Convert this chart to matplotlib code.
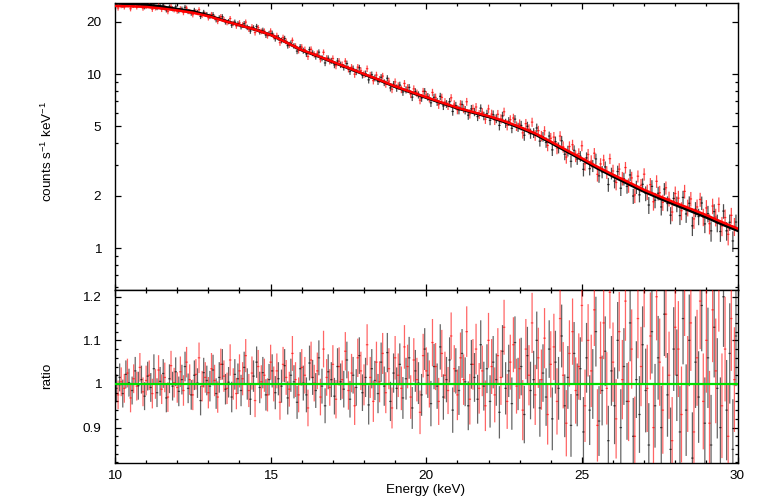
import numpy as np
import matplotlib
matplotlib.use("Agg")
import matplotlib.pyplot as plt
from matplotlib.ticker import FixedLocator, FixedFormatter, MultipleLocator, NullFormatter

plt.rcParams['font.family'] = ['Liberation Sans', 'DejaVu Sans']
plt.rcParams['mathtext.fontset'] = 'custom'
plt.rcParams['mathtext.rm'] = 'Liberation Sans'
plt.rcParams['mathtext.default'] = 'regular'

# ---------------- data ----------------
model_energy = np.linspace(10.0, 30.0, 41)
model_black = [25.5, 25.3, 25.0, 24.4, 23.6, 22.9, 21.7, 20.3, 19.1, 18.0,
               16.8, 15.2, 13.7, 12.7, 11.7, 10.8, 9.96, 9.20, 8.45, 7.85,
               7.31, 6.81, 6.35, 6.00, 5.68, 5.31, 4.91, 4.50, 4.03, 3.60,
               3.22, 2.87, 2.58, 2.33, 2.11, 1.93, 1.77, 1.63, 1.50, 1.37, 1.26]
model_red = [24.6, 24.5, 24.3, 23.8, 23.2, 22.5, 21.5, 20.2, 19.1, 18.0,
             16.8, 15.2, 13.75, 12.75, 11.75, 10.85, 10.0, 9.25, 8.5, 7.9,
             7.36, 6.86, 6.40, 6.05, 5.73, 5.37, 4.97, 4.56, 4.09, 3.66,
             3.28, 2.93, 2.64, 2.39, 2.16, 1.98, 1.82, 1.68, 1.545, 1.41, 1.295]

energy_black = 10.05 + 0.1 * np.arange(200)
energy_red = 10.10 + 0.1 * np.arange(199)

ratio_black = [
    0.990, 1.015, 0.978, 1.022, 1.003, 0.985, 1.030, 0.996, 1.010, 0.972,
    1.018, 0.992, 1.035, 0.980, 1.006, 1.024, 0.968, 1.012, 0.995, 1.028,
    0.983, 1.010, 1.040, 0.990, 0.975, 1.020, 1.002, 0.962, 1.026, 1.008,
    0.995, 1.032, 0.978, 1.015, 1.045, 0.988, 1.004, 0.970, 1.022, 1.012,
    0.985, 1.038, 1.000, 0.965, 1.018, 1.050, 0.992, 1.026, 0.975, 1.010,
    1.030, 0.980, 1.012, 0.995, 1.042, 0.968, 1.020, 1.005, 0.958, 1.035,
    1.002, 0.975, 1.048, 1.015, 0.985, 1.060, 0.995, 0.950, 1.028, 1.010,
    0.972, 1.040, 1.005, 0.988, 1.055, 0.965, 1.020, 0.992, 1.065, 0.980,
    1.015, 0.952, 1.035, 1.008, 0.978, 1.050, 0.995, 1.072, 0.960, 1.025,
    0.990, 1.045, 0.968, 1.012, 1.060, 0.945, 1.030, 1.002, 0.975, 1.080,
    1.020, 0.955, 1.040, 0.995, 1.085, 0.970, 1.010, 1.055, 0.940, 1.030,
    0.985, 1.070, 1.005, 0.950, 1.045, 1.015, 0.965, 1.090, 0.995, 1.035,
    0.960, 1.050, 1.010, 0.935, 1.075, 0.990, 1.030, 0.955, 1.095, 1.000,
    1.040, 0.930, 1.065, 0.985, 1.010, 1.100, 0.945, 1.025, 0.970, 1.080,
    0.920, 1.050, 0.990, 1.110, 0.950, 1.015, 0.905, 1.070, 0.975, 1.035,
    0.890, 1.060, 0.940, 1.000, 1.120, 0.915, 0.985, 1.075, 0.870, 1.030,
    0.950, 1.100, 0.900, 1.040, 0.960, 1.140, 0.880, 1.010, 0.930, 1.090,
    0.985, 0.860, 1.120, 0.950, 1.060, 0.900, 1.160, 0.975, 0.850, 1.080,
    1.020, 0.890, 1.150, 0.940, 1.100, 0.830, 1.050, 0.970, 1.180, 0.910,
    1.060, 0.860, 1.130, 0.990, 0.900, 1.200, 0.940, 1.070, 0.850, 1.110]
ratio_red = [
    0.975, 1.005, 0.990, 1.025, 0.968, 1.012, 0.995, 1.038, 0.982, 1.008,
    1.020, 0.978, 1.000, 1.032, 0.988, 1.015, 0.970, 1.042, 1.003, 0.992,
    1.028, 0.985, 1.050, 1.010, 0.975, 1.022, 1.060, 0.995, 1.015, 0.980,
    1.035, 1.008, 0.970, 1.045, 1.018, 0.990, 1.055, 1.000, 0.978, 1.030,
    1.012, 1.065, 0.985, 1.025, 0.962, 1.040, 1.005, 1.020, 0.975, 1.050,
    1.000, 1.030, 0.958, 1.045, 1.015, 0.988, 1.070, 1.010, 0.975, 1.038,
    1.020, 0.945, 1.055, 1.002, 1.030, 0.970, 1.080, 1.015, 0.992, 1.045,
    0.965, 1.040, 1.010, 1.075, 0.985, 1.025, 0.950, 1.060, 1.030, 0.998,
    1.090, 1.015, 0.960, 1.050, 1.005, 1.070, 0.980, 1.035, 0.945, 1.060,
    1.020, 0.990, 1.085, 1.040, 0.970, 1.055, 1.010, 0.935, 1.065, 1.030,
    1.000, 1.095, 1.040, 0.960, 1.070, 1.020, 0.985, 1.110, 1.035, 0.975,
    1.060, 1.010, 1.120, 0.965, 1.045, 1.080, 0.990, 1.030, 0.950, 1.100,
    1.040, 0.975, 1.065, 1.015, 1.130, 0.960, 1.050, 1.090, 0.995, 1.035,
    0.940, 1.080, 1.020, 1.140, 0.975, 1.060, 1.010, 1.105, 0.930, 1.045,
    1.085, 0.960, 1.150, 1.020, 0.910, 1.070, 1.120, 0.985, 1.040, 1.180,
    0.950, 1.100, 1.030, 1.170, 0.905, 1.060, 1.140, 0.990, 1.210, 1.050,
    0.920, 1.120, 1.010, 1.190, 0.960, 1.080, 0.880, 1.150, 1.040, 1.230,
    0.990, 1.110, 0.900, 1.200, 1.050, 0.940, 1.160, 1.020, 0.870, 1.130,
    1.080, 0.930, 1.220, 1.000, 1.140, 0.890, 1.060, 1.190, 0.960, 1.100,
    0.910, 1.170, 1.030, 1.240, 0.950, 1.080, 0.880, 1.150, 1.010]

# half error on the ratio, per 1 keV band (10-11, 11-12, ..., 29-30)
band_err_black = [0.032, 0.033, 0.034, 0.035, 0.036, 0.038, 0.040, 0.042, 0.045, 0.048,
                  0.052, 0.056, 0.060, 0.066, 0.072, 0.080, 0.088, 0.096, 0.105, 0.115]
band_err_red = [0.033, 0.034, 0.035, 0.036, 0.038, 0.040, 0.042, 0.044, 0.047, 0.050,
                0.054, 0.058, 0.063, 0.069, 0.076, 0.083, 0.091, 0.100, 0.110, 0.120]

y_major_top = [1, 2, 5, 10, 20]
y_minor_top = [0.6, 0.7, 0.8, 0.9, 3, 4, 6, 7, 8, 9]
y_major_bot = [0.9, 1.0, 1.1, 1.2]
y_major_bot_labels = ['0.9', '1', '1.1', '1.2']
x_major = [10, 15, 20, 25, 30]

# ---------------- derived ----------------
def model_at(e, model):
    return np.exp(np.interp(e, model_energy, np.log(model)))

def band_lookup(e, band):
    idx = np.clip(np.floor(np.asarray(e) - 10).astype(int), 0, len(band) - 1)
    return np.asarray(band)[idx]

rb = np.asarray(ratio_black)
rr = np.asarray(ratio_red)
eb = band_lookup(energy_black, band_err_black)
er = band_lookup(energy_red, band_err_red)
mb = model_at(energy_black, model_black)
mr = model_at(energy_red, model_red)

BLACK = '#000000'
RED = '#ff0000'
GREEN = '#00e000'

fig = plt.figure(figsize=(7.59, 4.98), dpi=100)
ax1 = fig.add_axes([0.1515, 0.4177, 0.8202, 0.5769])
ax2 = fig.add_axes([0.1515, 0.0709, 0.8202, 0.3468])


def draw_err(ax, x, y, ye, color, z, alpha):
    cont = ax.errorbar(x, y, yerr=ye, xerr=0.04, fmt='none', ecolor=color,
                       elinewidth=0.9, alpha=alpha, zorder=z)
    for coll in cont[2]:
        coll.set_snap(False)
        coll.set_antialiased(True)


draw_err(ax1, energy_black, mb * rb, mb * eb, BLACK, 2, 0.7)
draw_err(ax1, energy_red, mr * rr, mr * er, RED, 3, 0.7)
ax1.plot(model_energy, model_black, color=BLACK, lw=2.0, zorder=4)
ax1.plot(model_energy, model_red, color=RED, lw=1.8, zorder=5)

draw_err(ax2, energy_black, rb, eb, BLACK, 2, 0.6)
draw_err(ax2, energy_red, rr, er, RED, 3, 0.6)
ax2.axhline(1.0, color=GREEN, lw=1.6, zorder=5)

ax1.set_yscale('log')
ax1.set_ylim(0.574, 25.7)
ax2.set_ylim(0.8195, 1.2155)
for ax in (ax1, ax2):
    ax.set_xlim(10, 30)
    ax.xaxis.set_major_locator(FixedLocator(x_major))
    ax.xaxis.set_minor_locator(MultipleLocator(1))
    ax.tick_params(which='both', direction='in', top=True, right=True,
                   labelsize=9.7, width=0.9, color='black')
    ax.tick_params(which='major', length=4.6)
    ax.tick_params(which='minor', length=2.4)
    ax.tick_params(axis='y', pad=10)
    ax.tick_params(axis='x', pad=5)
    for s in ax.spines.values():
        s.set_linewidth(1.0)

ax1.yaxis.set_major_locator(FixedLocator(y_major_top))
ax1.yaxis.set_major_formatter(FixedFormatter([str(v) for v in y_major_top]))
ax1.yaxis.set_minor_locator(FixedLocator(y_minor_top))
ax1.yaxis.set_minor_formatter(NullFormatter())
ax1.xaxis.set_major_formatter(NullFormatter())

ax2.yaxis.set_major_locator(FixedLocator(y_major_bot))
ax2.yaxis.set_major_formatter(FixedFormatter(y_major_bot_labels))
ax2.yaxis.set_minor_locator(MultipleLocator(0.02))
ax2.xaxis.set_major_formatter(FixedFormatter([str(v) for v in x_major]))

fig.text(47 / 759, 1 - 152 / 498, r'counts s$^{-1}$ keV$^{-1}$', rotation=90,
         ha='center', va='center', fontsize=9.7)
fig.text(47 / 759, 1 - 376 / 498, 'ratio', rotation=90,
         ha='center', va='center', fontsize=9.7)
fig.text(426 / 759, 1 - 490 / 498, 'Energy (keV)', ha='center', va='center',
         fontsize=9.7)

fig.savefig('out.png', dpi=100)
